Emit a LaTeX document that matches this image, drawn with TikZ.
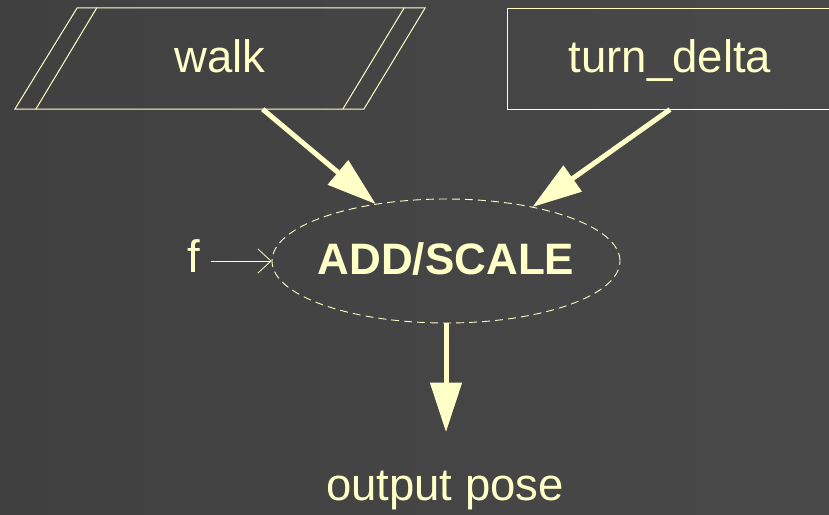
\documentclass[tikz,border=0pt]{standalone}
\usepackage{fontspec}
\setmainfont{Liberation Sans}
\usetikzlibrary{arrows.meta,shapes.geometric,calc}
\definecolor{bgdark}{HTML}{404040}
\definecolor{bglight}{HTML}{494949}
\definecolor{ink}{HTML}{FFFFC8}
\begin{document}
\begin{tikzpicture}[x=1pt,y=-1pt,
  big/.style={font=\fontsize{45.5}{52}\selectfont, text=ink},
  boxtext/.style={big, inner sep=0pt, text height=32pt, text depth=3.6pt},
  outline/.style={draw=ink, line width=1pt},
  bigarrow/.style={draw=ink, line width=5pt, -{Triangle[length=49pt,width=32pt,line width=1pt]}},
  thinarrow/.style={draw=ink, line width=0.8pt, -{Straight Barb[length=13pt,width=24pt]}}]
\shade[left color=bgdark, right color=bglight] (0,0) rectangle (829,514);
\useasboundingbox (0,0) rectangle (829,514);

% walk (parallelogram)
\node[boxtext, minimum width=410pt, minimum height=101pt] (walk) at (220,58.5) {walk};
\draw[outline] (walk.south west) -- ++(349,0) -- (walk.north east) -- ++(-348,0) -- cycle;
\draw[outline] ($(walk.south west)+(21,0)$) -- ($(walk.north west)+(82,0)$);
\draw[outline] ($(walk.south west)+(328,0)$) -- ($(walk.north east)+(-21,0)$);

% turn_delta
\node[boxtext, outline, minimum width=326pt, minimum height=101pt] (turn) at (670,58.5) {turn\_delta};

% ADD/SCALE
\node[ellipse, draw=ink, line width=0.9pt, dash pattern=on 8pt off 5pt,
      minimum width=348pt, minimum height=124pt, inner sep=0pt,
      text height=32pt, text depth=6pt, text=ink,
      font=\bfseries\fontsize{44}{50}\selectfont] (add) at (446,261) {\makebox[0pt]{ADD/SCALE}};

% f input
\node[big, inner sep=0pt, anchor=base] (f) at (194,272) {f};
\draw[thinarrow] ($(f.east|-add.west)+(10pt,0pt)$) -- (add.west);

% arrows
\draw[bigarrow] ($(walk.south)+(42.7,0)$) -- (add.141.7);
\draw[bigarrow] (turn.south) -- (add.32.9);
\coordinate (outtip) at (446,431.7);
\draw[bigarrow] (add.south) -- (outtip);

\node[big, anchor=base] (out) at (445,500) {output pose};
\end{tikzpicture}
\end{document}
